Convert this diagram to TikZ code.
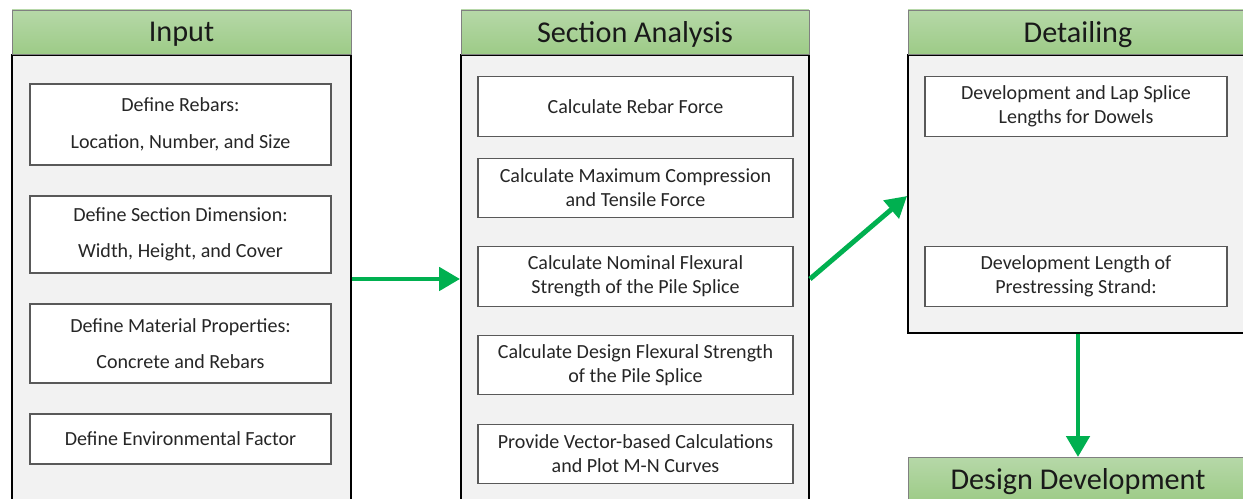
\documentclass[tikz,border=0pt]{standalone}
\usepackage{fontspec}
\setmainfont{Carlito}
\usetikzlibrary{arrows.meta}
\definecolor{hdrtop}{HTML}{B6D8A8}
\definecolor{hdrbot}{HTML}{9DCB87}
\definecolor{panelgray}{HTML}{F2F2F2}
\definecolor{flowgreen}{HTML}{00B050}
\definecolor{boxline}{HTML}{595959}
\tikzset{
header/.style={draw=gray, top color=hdrtop, bottom color=hdrbot,
  minimum height=0.88cm, inner sep=0pt, text=black!90, text depth=0pt,
  font=\fontsize{17.2}{20}\selectfont},
panel/.style={draw=black, line width=1.1pt, fill=panelgray, inner sep=0pt},
stepbox/.style={draw=boxline, line width=0.8pt, fill=white, align=center,
  inner sep=0pt, text=black!85, font=\fontsize{11.4}{13.7}\selectfont},
inbox/.style={stepbox, minimum width=6.02cm},
secbox/.style={stepbox, minimum width=6.3cm, minimum height=1.19cm},
detbox/.style={stepbox, minimum width=6.04cm, minimum height=1.19cm},
flow/.style={draw=flowgreen, line width=2.8pt,
  -{Triangle[length=0.42cm,width=0.46cm]}}
}
\begin{document}
\begin{tikzpicture}[x=0.02cm, y=-0.02cm]
\useasboundingbox (0,0) rectangle (1243,499);
\clip (0,0) rectangle (1243,499);
% input
\node[panel, minimum width=6.78cm, minimum height=9.6cm, anchor=north] (inbody) at (181.5,54) {};
\node[header, minimum width=6.78cm] (inhdr) at (181.5,32) {Input};
\node[inbox, minimum height=1.62cm] (rebars) at (180.5,124.5) {Define Rebars:\\[7pt]Location, Number, and Size};
\node[inbox, minimum height=1.54cm] (dims) at (180.5,234.5) {Define Section Dimension:\\[7pt]Width, Height, and Cover};
\node[inbox, minimum height=1.58cm] (matl) at (180.5,343.5) {Define Material Properties:\\[7pt]Concrete and Rebars};
\node[inbox, minimum height=1.0cm] (envir) at (180.5,439) {Define Environmental Factor};
% section analysis
\node[panel, minimum width=6.96cm, minimum height=9.6cm, anchor=north] (secbody) at (635,54) {};
\node[header, minimum width=6.96cm] (sechdr) at (635,32) {Section Analysis};
\node[secbox] (force) at (635.5,106.5) {Calculate Rebar Force};
\node[secbox] (maxct) at (635.5,188) {Calculate Maximum Compression\\and Tensile Force};
\node[secbox] (nomflex) at (635.5,276.5) {Calculate Nominal Flexural\\Strength of the Pile Splice};
\node[secbox] (desflex) at (635.5,365) {Calculate Design Flexural Strength\\of the Pile Splice};
\node[secbox] (mncurve) at (635.5,454) {Provide Vector-based Calculations\\and Plot M-N Curves};
% detailing
\node[panel, minimum width=6.8cm, minimum height=5.56cm, anchor=north] (detbody) at (1078,54) {};
\node[header, minimum width=6.8cm] (dethdr) at (1078,32) {Detailing};
\node[detbox] (dowels) at (1076,106.5) {Development and Lap Splice\\Lengths for Dowels};
\node[detbox] (strand) at (1076,276.5) {Development Length of\\Prestressing Strand:};
% design development
\node[header, minimum width=6.8cm, anchor=north] (design) at (1078,457) {Design Development};
% arrows
\draw[flow] (inbody.east |- 0,279) -- (secbody.west |- 0,279);
\draw[flow] (secbody.east |- 0,279) -- (detbody.west |- 0,196);
\draw[flow] (detbody.south) -- (design.north);
\end{tikzpicture}
\end{document}
